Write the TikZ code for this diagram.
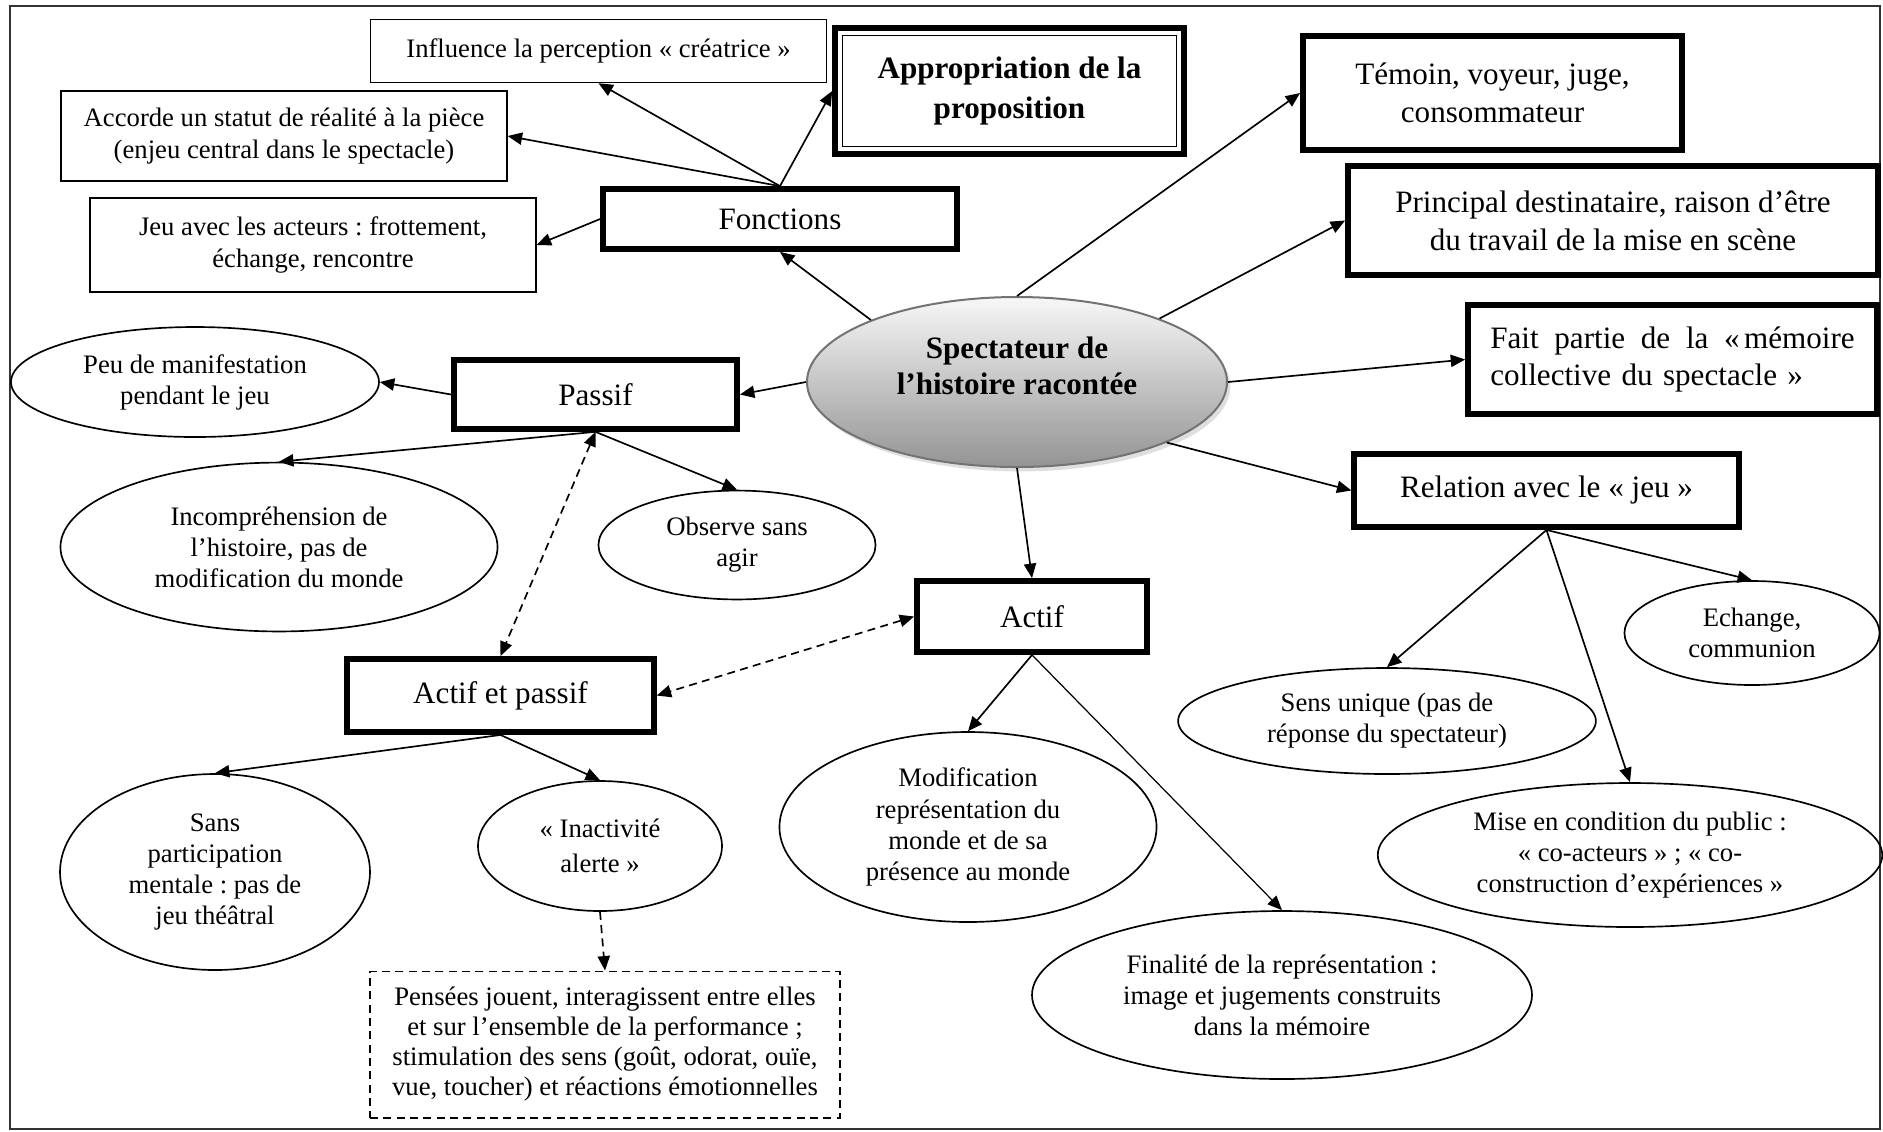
\documentclass[tikz,border=0pt]{standalone}
\usepackage{fontspec}
\setmainfont{Liberation Serif}
\usetikzlibrary{arrows.meta,shapes.geometric,shadows}
\frenchspacing

\begin{document}
\begin{tikzpicture}[x=0.45pt,y=-0.45pt,
>={Triangle[length=6.5pt,width=5.5pt]},
thinbox/.style={draw,line width=0.6pt,inner sep=0pt,align=center,font=\fontsize{12}{14.8}\selectfont},
thickbox/.style={draw,line width=2.6pt,inner sep=0pt,align=center,font=\fontsize{14}{17}\selectfont},
oval/.style={ellipse,draw,line width=0.75pt,inner sep=0pt,align=center,font=\fontsize{12}{14}\selectfont},
link/.style={->,line width=0.75pt},
dlink/.style={<->,line width=0.75pt,dash pattern=on 3.6pt off 2.4pt}]
\useasboundingbox(0,0)rectangle(1883,1131);
\draw[line width=0.9pt,black!80](10,6)rectangle(1880,1129);

\node[thinbox,minimum width=205pt,minimum height=28.4pt](infl)at(598.5,51){Influence la perception «~créatrice~»};
\node[thinbox,minimum width=200.7pt,minimum height=40.5pt](acc)at(284,136){Accorde un statut de réalité à la pièce\\(enjeu central dans le spectacle)};
\node[thinbox,minimum width=200.7pt,minimum height=42.3pt](jeu)at(313,245){Jeu avec les acteurs : frottement,\\échange, rencontre};
\node[thickbox,minimum width=159.3pt,minimum height=27pt](fonc)at(780,219){Fonctions};
\node[thickbox,minimum width=157pt,minimum height=56.7pt,font=\bfseries\fontsize{14}{18}\selectfont](appr)at(1009.5,91){Appropriation de la\\proposition};
\draw[line width=0.6pt]([shift={(4.6pt,-4.6pt)}]appr.north west)rectangle([shift={(-4.6pt,4.6pt)}]appr.south east);
\node[thickbox,minimum width=170.6pt,minimum height=51.3pt](tem)at(1492.5,93){Témoin, voyeur, juge,\\consommateur};
\node[thickbox,minimum width=238.5pt,minimum height=49pt](prin)at(1613,220.5){Principal destinataire, raison d’être\\du travail de la mise en scène};
\node[thickbox,minimum width=184pt,minimum height=49pt,align=left,text width=164pt](fait)at(1672.5,359.5){\hbox to 164pt{Fait\hfill partie\hfill de\hfill la\hfill «\kern2pt mémoire}\\collective du spectacle »};
\node[thickbox,minimum width=173pt,minimum height=32.9pt](rel)at(1546.5,490.5){Relation avec le «~jeu~»};
\node[thickbox,minimum width=127.4pt,minimum height=31pt](passif)at(595.5,394.5){Passif};
\node[thickbox,minimum width=103.5pt,minimum height=32pt](actif)at(1032,616.5){Actif};
\node[thickbox,minimum width=138pt,minimum height=32.9pt](ap)at(500.5,695.5){Actif et passif};
\node[thinbox,dash pattern=on 3.6pt off 2.4pt,minimum width=211.5pt,minimum height=66pt,font=\fontsize{12}{13.5}\selectfont](pens)at(605,1044.5){Pensées jouent, interagissent entre elles\\et sur l’ensemble de la performance ;\\stimulation des sens (goût, odorat, ouïe,\\vue, toucher) et réactions émotionnelles};

\node[oval,minimum width=189pt,minimum height=76.5pt,draw=black!55,line width=0.9pt,top color=black!3,bottom color=black!42,drop shadow={shadow xshift=1.5pt,shadow yshift=-2pt,fill=black!25},font=\bfseries\fontsize{14}{16.2}\selectfont](spec)at(1017,382){Spectateur de\\l’histoire racontée\\[-6pt]\strut};
\node[oval,minimum width=165.6pt,minimum height=49.5pt](peu)at(195,382){Peu de manifestation\\pendant le jeu};
\node[oval,minimum width=196.7pt,minimum height=76pt](inc)at(279,547){Incompréhension de\\l’histoire, pas de\\modification du monde};
\node[oval,minimum width=124.7pt,minimum height=49pt](obs)at(737,545){Observe sans\\agir};
\node[oval,minimum width=139.5pt,minimum height=88.2pt](sans)at(215,872){Sans\\participation\\mentale : pas de\\jeu théâtral};
\node[oval,minimum width=109.8pt,minimum height=58.5pt,font=\fontsize{12}{15.5}\selectfont](inact)at(600,846){«~Inactivité\\alerte~»};
\node[oval,minimum width=169.7pt,minimum height=85.5pt](modif)at(968,827){Modification\\représentation du\\monde et de sa\\présence au monde};
\node[oval,minimum width=225pt,minimum height=75.6pt](fin)at(1282,995){Finalité de la représentation :\\image et jugements construits\\dans la mémoire};
\node[oval,minimum width=188pt,minimum height=47.7pt](sens)at(1387,721){Sens unique (pas de\\réponse du spectateur)};
\node[oval,minimum width=114.8pt,minimum height=46.8pt](ech)at(1752,633){Echange,\\communion};
\node[oval,minimum width=227pt,minimum height=64.8pt](mise)at(1630,855){Mise en condition du public :\\«~co-acteurs~» ; «~co-\\construction d’expériences~»};

\draw[link](fonc.north)--(infl.south);
\draw[link](fonc.north)--(acc.east);
\draw[link](fonc.north)--(appr.west);
\draw[link](fonc.west)--(jeu.east);
\draw[link](spec.157)--(fonc.south);
\draw[link](spec.north)--(tem.west);
\draw[link](spec.24)--(prin.west);
\draw[link](spec.east)--(fait.west);
\draw[link](spec.-22)--(rel.west);
\draw[link](spec.south)--(actif.north);
\draw[link](spec.west)--(passif.east);
\draw[link](passif.west)--(peu.east);
\draw[link](passif.south)--(inc.north);
\draw[link](passif.south)--(obs.north);
\draw[dlink](passif.south)--(ap.north);
\draw[dlink](actif.west)--(ap.east);
\draw[link](ap.south)--(sans.north);
\draw[link](ap.south)--(inact.north);
\draw[link,dash pattern=on 3.6pt off 2.4pt](inact.south)--(pens.north);
\draw[link](actif.south)--(modif.north);
\draw[link,line width=0.55pt](actif.south)--(fin.north);
\draw[link](rel.south)--(sens.north);
\draw[link](rel.south)--(mise.north);
\draw[link](rel.south)--(ech.north);
\end{tikzpicture}
\end{document}
